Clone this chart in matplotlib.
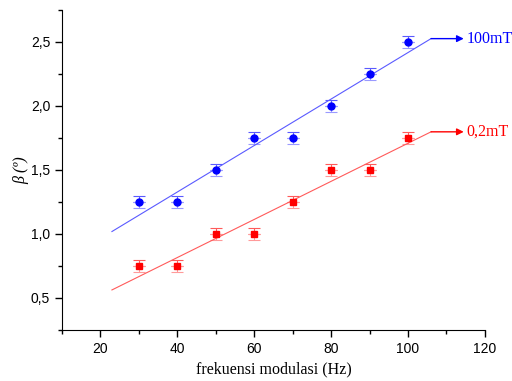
import numpy as np
import matplotlib.pyplot as plt
from matplotlib.ticker import MultipleLocator, FuncFormatter

freq = [30, 40, 50, 60, 70, 80, 90, 100]
beta_100mT = [1.25, 1.25, 1.5, 1.75, 1.75, 2.0, 2.25, 2.5]
beta_02mT = [0.75, 0.75, 1.0, 1.0, 1.25, 1.5, 1.5, 1.75]
err = 0.05
labels = ['100mT', '0,2mT']

fig = plt.figure(figsize=(5.12, 3.81), dpi=100)
ax = fig.add_axes([0.121, 0.134, 0.826, 0.84])

x = np.array(freq)
xfit = np.array([23, 106])
series = [
    (beta_100mT, 'o', 'blue', '#5a5aff', '#9a9aff', labels[0]),
    (beta_02mT, 's', 'red', '#ff5a5a', '#ff9a9a', labels[1]),
]
for y, mk, col, fitcol, errcol, lab in series:
    y = np.array(y)
    # error bars: upper part darker, lower part lighter
    ax.errorbar(x, y, yerr=[np.zeros_like(y), np.full_like(y, err)], fmt='none',
                ecolor=fitcol, elinewidth=0.8, capsize=4, capthick=0.8)
    ax.errorbar(x, y, yerr=[np.full_like(y, err), np.zeros_like(y)], fmt='none',
                ecolor=errcol, elinewidth=0.8, capsize=4, capthick=0.8)
    ax.plot(x, y, mk, color=col, markersize=5, zorder=3)
    # linear fit
    k, b = np.polyfit(x, y, 1)
    yf = k * xfit + b
    ax.plot(xfit, yf, color=fitcol, lw=0.8)
    ax.annotate('', xy=(114.5, yf[-1]), xytext=(xfit[-1], yf[-1]),
                arrowprops=dict(arrowstyle='-|>', color=col, lw=1.0,
                                mutation_scale=10, shrinkA=0, shrinkB=0))
    ax.text(115.2, yf[-1], lab, color=col, fontsize=11.5, family='Liberation Serif',
            va='center', ha='left')

ax.set_xlim(10, 120)
ax.set_ylim(0.25, 2.75)
ax.xaxis.set_major_locator(MultipleLocator(20))
ax.xaxis.set_minor_locator(MultipleLocator(10))
ax.yaxis.set_major_locator(MultipleLocator(0.5))
ax.yaxis.set_minor_locator(MultipleLocator(0.25))
ax.yaxis.set_major_formatter(FuncFormatter(lambda v, p: f'{v:.1f}'.replace('.', ',')))
ax.xaxis.set_major_formatter(FuncFormatter(lambda v, p: '' if v < 15 else f'{v:.0f}'))
ax.tick_params(which='major', length=5, width=1, labelsize=10)
ax.tick_params(which='minor', length=3, width=1)
for lbl in ax.get_xticklabels() + ax.get_yticklabels():
    lbl.set_family('Liberation Sans')
ax.spines['top'].set_visible(False)
ax.spines['right'].set_visible(False)
ax.set_xlabel('frekuensi modulasi (Hz)', family='Liberation Serif', fontsize=11.5)
ax.set_ylabel('β (º)', family='Liberation Serif', style='italic', fontsize=11.5,
              labelpad=1)

fig.savefig('out.png')
